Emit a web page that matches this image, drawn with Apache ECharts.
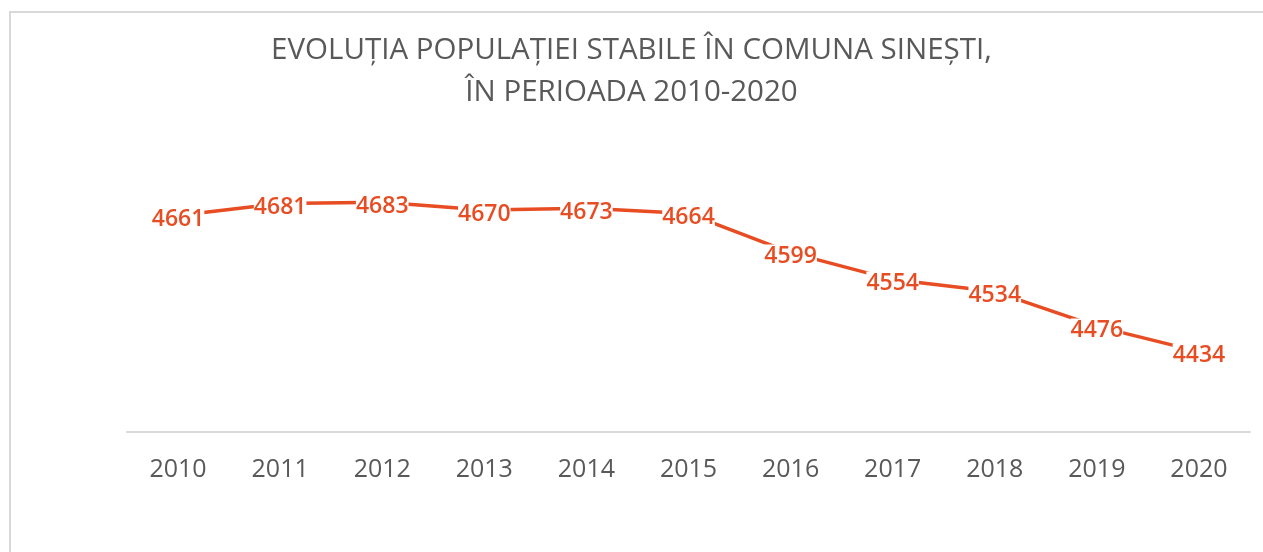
<!DOCTYPE html>
<html><head><meta charset="utf-8">
<script src="https://cdn.jsdelivr.net/npm/echarts@6/dist/echarts.min.js"></script>
<style>
html,body{margin:0;padding:0;background:#fff;overflow:hidden;}
#frame{position:absolute;left:9px;top:11px;width:1300px;height:600px;border-top:2px solid #d9d9d9;border-left:2px solid #d9d9d9;box-sizing:border-box;}
#chart{position:absolute;left:0;top:0;width:1263px;height:552px;}
</style></head>
<body>
<div id="frame"></div>
<div id="chart"></div>
<script>
const years = ['2010','2011','2012','2013','2014','2015','2016','2017','2018','2019','2020'];
const population = [4661,4681,4683,4670,4673,4664,4599,4554,4534,4476,4434];
const titleLines = ['EVOLUȚIA POPULAȚIEI STABILE ÎN COMUNA SINEȘTI,','ÎN PERIOADA 2010-2020'];

const chart = echarts.init(document.getElementById('chart'));
chart.setOption({
  backgroundColor: 'transparent',
  animation: false,
  title: {
    text: titleLines.join('\n'),
    left: 'center',
    top: 25,
    textStyle: {fontFamily: 'Open Sans', fontSize: 29.5, fontWeight: 'normal', color: '#595959', lineHeight: 42}
  },
  grid: {left: 127, right: 13, top: 162, bottom: 120},
  xAxis: {
    type: 'category',
    data: years,
    boundaryGap: true,
    axisLine: {lineStyle: {color: '#d9d9d9', width: 2}},
    axisTick: {show: false},
    axisLabel: {color: '#595959', fontFamily: 'Open Sans', fontSize: 25, margin: 25}
  },
  yAxis: {
    type: 'value', min: 4300, max: 4750, show: false,
    splitLine: {show: false}
  },
  series: [{
    type: 'line',
    data: population,
    symbol: 'circle',
    symbolSize: 2,
    showSymbol: true,
    showAllSymbol: true,
    itemStyle: {color: 'rgba(232,76,34,0)'},
    lineStyle: {color: '#E84C22', width: 3.5},
    labelLayout: {hideOverlap: false},
    label: {
      show: true, position: 'bottom', distance: -9, opacity: 1,
      color: '#E84C22', fontFamily: 'Open Sans', fontSize: 23, fontWeight: 600,
      lineHeight: 24,
      backgroundColor: '#fff', padding: [0, 0]
    }
  }]
});
</script>
</body></html>
